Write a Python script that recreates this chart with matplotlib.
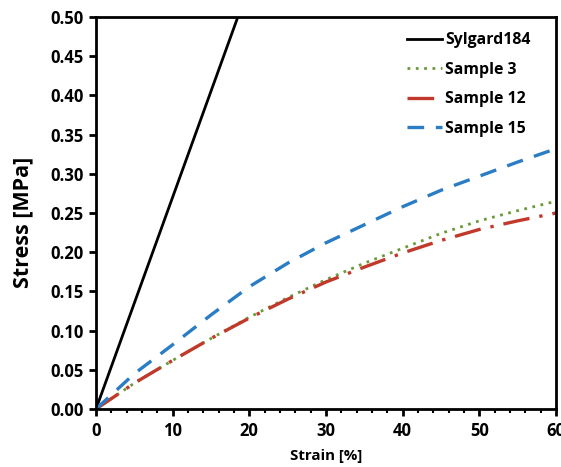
import matplotlib
matplotlib.use("Agg")
import matplotlib.pyplot as plt
from matplotlib.ticker import MultipleLocator, FormatStrFormatter

strain = [0, 5, 10, 15, 20, 25, 30, 35, 40, 45, 50, 55, 60]
sylgard_strain = [0, 18.5]
sylgard_stress = [0, 0.5]
sample3 = [0, 0.033, 0.062, 0.090, 0.117, 0.142, 0.165, 0.186, 0.205, 0.224, 0.240, 0.253, 0.265]
sample12 = [0, 0.033, 0.062, 0.090, 0.116, 0.140, 0.162, 0.181, 0.199, 0.215, 0.229, 0.240, 0.250]
sample15 = [0, 0.045, 0.082, 0.120, 0.156, 0.186, 0.212, 0.235, 0.258, 0.279, 0.297, 0.315, 0.332]
labels = ["Sylgard184", "Sample 3", "Sample 12", "Sample 15"]

plt.rcParams['font.family'] = ['Open Sans', 'DejaVu Sans']
plt.rcParams['font.weight'] = 'bold'

fig = plt.figure(figsize=(5.61, 4.67), dpi=100)
ax = fig.add_axes([96/561, 1 - 409/467, 460/561, 392/467])

ax.plot(sylgard_strain, sylgard_stress, color='black', lw=2, label=labels[0])
ax.plot(strain, sample3, color='#6a9a3a', lw=2, linestyle=(0, (1, 2)), label=labels[1])
ax.plot(strain, sample12, color='#c0392b', lw=2.4, linestyle=(0, (8, 3, 1, 3)), label=labels[2])
ax.plot(strain, sample15, color='#2a7dc4', lw=2.4, linestyle=(0, (5, 3.5)), label=labels[3])

ax.set_xlim(0, 60)
ax.set_ylim(0, 0.5)
ax.xaxis.set_major_locator(MultipleLocator(10))
ax.xaxis.set_minor_locator(MultipleLocator(2))
ax.yaxis.set_major_locator(MultipleLocator(0.05))
ax.yaxis.set_major_formatter(FormatStrFormatter('%.2f'))
ax.tick_params(axis='both', which='major', direction='out', length=5, width=2, labelsize=12, pad=4)
ax.tick_params(axis='x', which='minor', direction='out', length=3, width=1.5)
for s in ax.spines.values():
    s.set_linewidth(2)

ax.set_xlabel("Strain [%]", fontsize=10.8, fontweight='bold')
ax.xaxis.set_label_coords(0.5, -0.103)
ax.set_ylabel("Stress [MPa]", fontsize=15.5, fontweight='bold')
ax.yaxis.set_label_coords(-0.137, 0.477)

leg = ax.legend(loc='upper right', frameon=False, fontsize=11.4, handlelength=2.2,
                labelspacing=0.85, borderaxespad=0.5, handletextpad=0.2,
                bbox_to_anchor=(0.976, 0.997))
for t in leg.get_texts():
    t.set_fontweight('bold')

fig.savefig("out.png", dpi=100)
